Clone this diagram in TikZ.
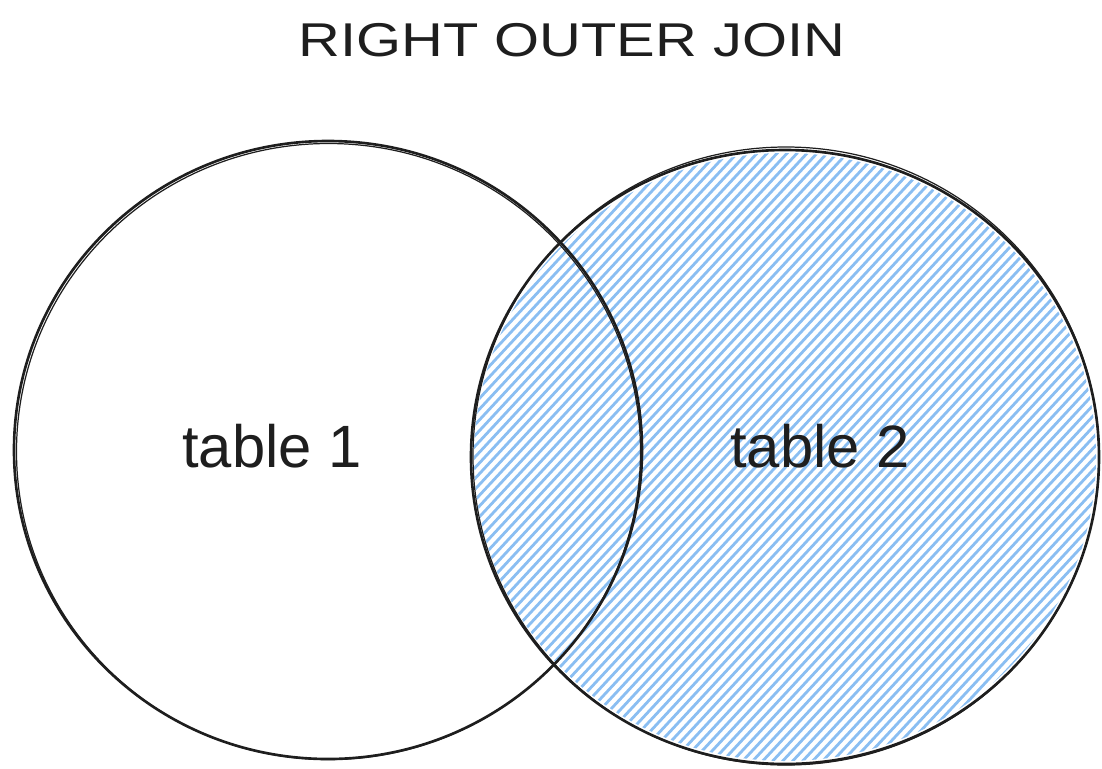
\documentclass[tikz,border=0pt]{standalone}
\usepackage{fontspec}
\setmainfont{Liberation Sans}
\definecolor{hatchblue}{RGB}{138,190,242}
\definecolor{ink}{RGB}{30,30,30}
\tikzset{
  hatch/.style={draw=hatchblue, line width=1.6pt},
  outline/.style={draw=ink, line width=1.5pt},
  outlinetwo/.style={draw=ink, line width=0.7pt},
  label/.style={font=\fontsize{34}{36}\selectfont, text=ink},
  titlestyle/.style={font=\fontsize{27}{30}\selectfont, text=ink}
}
\begin{document}
\begin{tikzpicture}[x=0.02cm,y=-0.02cm]
\useasboundingbox (0,0) rectangle (1102,768);
\coordinate (c1) at (328,450);
\coordinate (c2) at (785,457);
% hatch fill of table 2
\begin{scope}
  \clip (c2) ellipse [x radius=311, y radius=304];
  \foreach \s in {-490,-480,...,490}
    \draw[hatch] (785+\s-520,457+560) -- (785+\s+520,457-560);
\end{scope}
% outlines
\draw[outline] (c1) ellipse [x radius=314, y radius=309];
\draw[outlinetwo] (328.5,451.5) ellipse [x radius=312, y radius=308];
\draw[outline] (c2) ellipse [x radius=314, y radius=307];
\draw[outlinetwo] (786,456) ellipse [x radius=313, y radius=309];
% texts
\node[titlestyle] (title) at (572,40) {\scalebox{1.22}[1]{RIGHT OUTER JOIN}};
\node[label] (t1) at (272,446) {table 1};
\node[label] (t2) at (820,446) {table 2};
\end{tikzpicture}
\end{document}
